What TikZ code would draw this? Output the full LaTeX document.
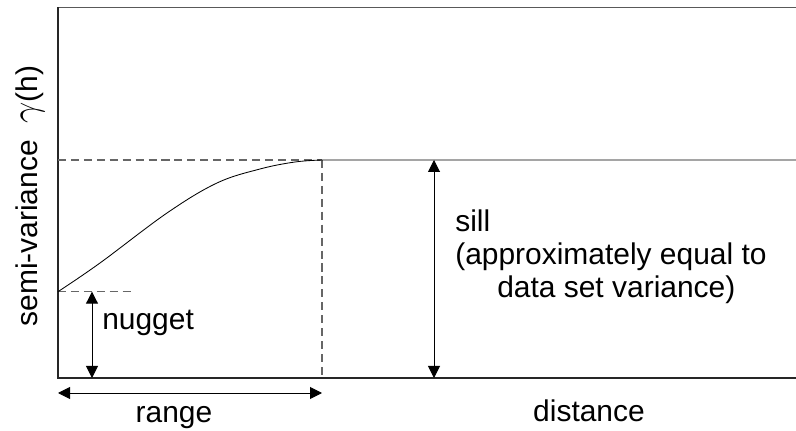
\documentclass[tikz,border=0pt]{standalone}
\usepackage{fontspec}
\setmainfont{Liberation Sans}
\usetikzlibrary{arrows.meta}
\tikzset{
	axisline/.style={line width=0.8pt, black!85},
	guide/.style={line width=0.75pt, black!60, dash pattern=on 5.7pt off 3.5pt},
	span/.style={line width=0.7pt, {Triangle[length=3mm,width=3mm]}-{Triangle[length=3mm,width=3mm]}},
	txt/.style={font=\fontsize{21.3}{24}\selectfont, inner sep=0pt}
}
\begin{document}
\begin{tikzpicture}[x=0.025cm, y=-0.025cm]
				\useasboundingbox (0,0) rectangle (796,431);
				% corners of the plot
				\coordinate (o) at (58,378);
				\coordinate (top) at (58,7.5);
				\coordinate (topr) at (796,7.5);
				\coordinate (botr) at (796,378);
				\coordinate (nug) at (58,291.7);
				\coordinate (rng) at (322,160);
				\coordinate (sillr) at (796,160);
				% frame
				\draw[axisline, gray!70!black] (topr) -- (top);
				\draw[axisline] (top) -- (o) -- (botr);
				% guides
				\draw[guide] (nug) -- (132,291.7);
				\draw[guide] (58,160) -- (rng);
				\draw[guide] (rng) -- (322,378);
				% semi-variogram
				\draw[line width=0.6pt] plot[smooth, tension=0.6] coordinates
					{(nug) (100,263) (167,213) (217,183) (260,169) (295,162) (rng)} -- (sillr);
				% measures
				\coordinate (n1) at (92,291.7);
				\coordinate (n2) at (92,378);
				\draw[span] (n1) -- (n2);
				\coordinate (r1) at (58,393);
				\coordinate (r2) at (322,393);
				\draw[span] (r1) -- (r2);
				\coordinate (s1) at (434,160);
				\coordinate (s2) at (434,378);
				\draw[span] (s1) -- (s2);
				% labels
				\node[txt, anchor=base west] (nugget) at (102,330){nugget};
				\node[txt, anchor=base] (range) at (174,423){range};
				\node[txt, anchor=base] (distance) at (589,421.5){distance};
				\node[txt, anchor=base west] (sill) at (455,232){sill};
				\node[txt, anchor=base west] (sillb) at (455,265){(approximately equal to};
				\node[txt, anchor=base west] (sillc) at (497,298){data set variance)};
				\node[txt, anchor=base, rotate=90] (gamma) at (37,196){semi-variance\ \ \scalebox{1.3}{$\gamma$}(h)};
			\end{tikzpicture}
\end{document}
